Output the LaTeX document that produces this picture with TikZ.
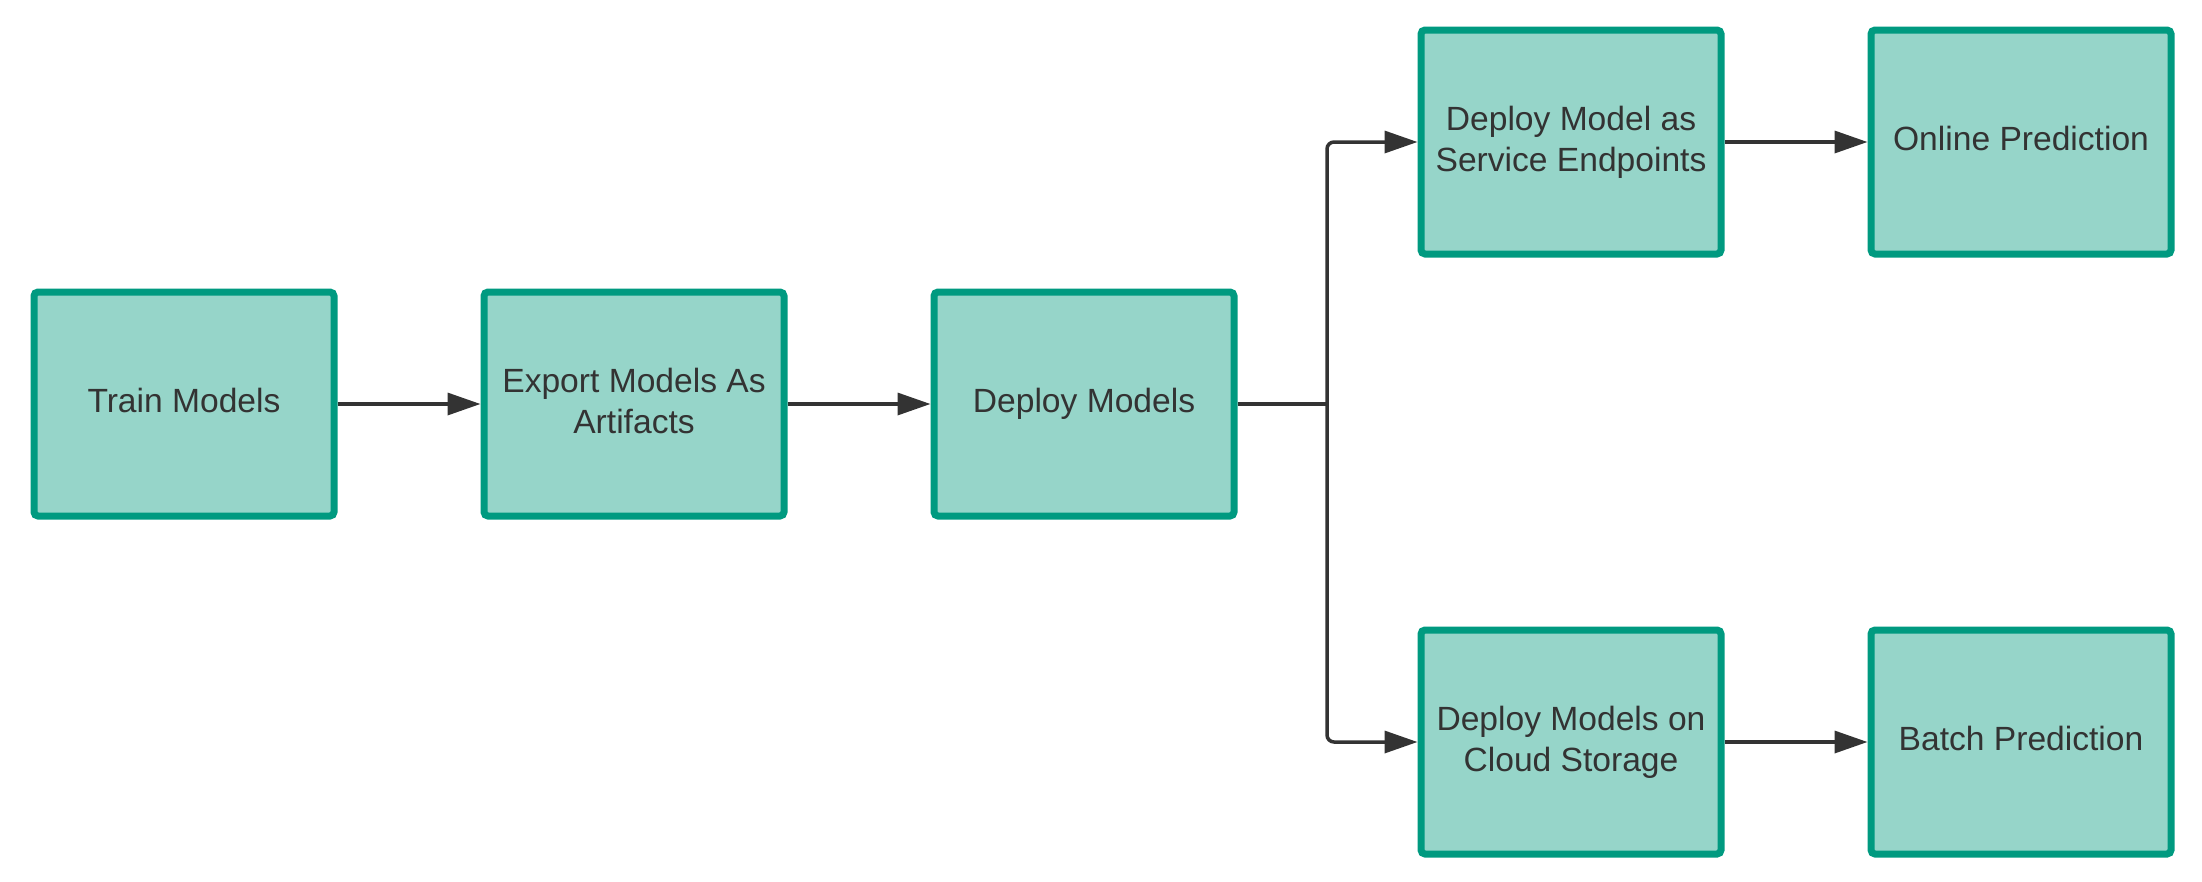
\documentclass[tikz,border=0pt]{standalone}
\usepackage{fontspec}
\setmainfont{Liberation Sans}
\usetikzlibrary{arrows.meta}
\definecolor{boxfill}{HTML}{96D5C9}
\definecolor{boxline}{HTML}{009A80}
\definecolor{ink}{HTML}{333333}
\begin{document}
\begin{tikzpicture}[x=1pt,y=-1pt,
  box/.style={draw=boxline, fill=boxfill, line width=7pt, rounded corners=4pt,
    minimum width=300pt, minimum height=224pt, inner sep=0pt, outer sep=3.5pt,
    text depth=7pt, align=center, text=ink, font=\fontsize{33.6pt}{41pt}\selectfont},
  conn/.style={draw=ink, line width=3.5pt, -{Triangle[length=33pt,width=22pt]}}]
\useasboundingbox (0,0) rectangle (2202,881);
\node[box] (train) at (184,404) {Train Models};
\node[box] (export) at (634,404) {Export Models As\\Artifacts};
\node[box] (deploy) at (1084,404) {Deploy Models};
\node[box] (service) at (1571,142) {Deploy Model as\\Service Endpoints};
\node[box] (online) at (2021,142) {Online Prediction};
\node[box] (cloud) at (1571,742) {Deploy Models on\\Cloud Storage};
\node[box] (batch) at (2021,742) {Batch Prediction};
\coordinate (j) at (1327,404);
\draw[conn] (train) -- (export);
\draw[conn] (export) -- (deploy);
\draw[draw=ink, line width=3.5pt] (deploy.east) -- (j);
\draw[conn, rounded corners=7pt] (j) |- (service.west);
\draw[conn, rounded corners=7pt] (j) |- (cloud.west);
\draw[conn] (service) -- (online);
\draw[conn] (cloud) -- (batch);
\end{tikzpicture}
\end{document}
